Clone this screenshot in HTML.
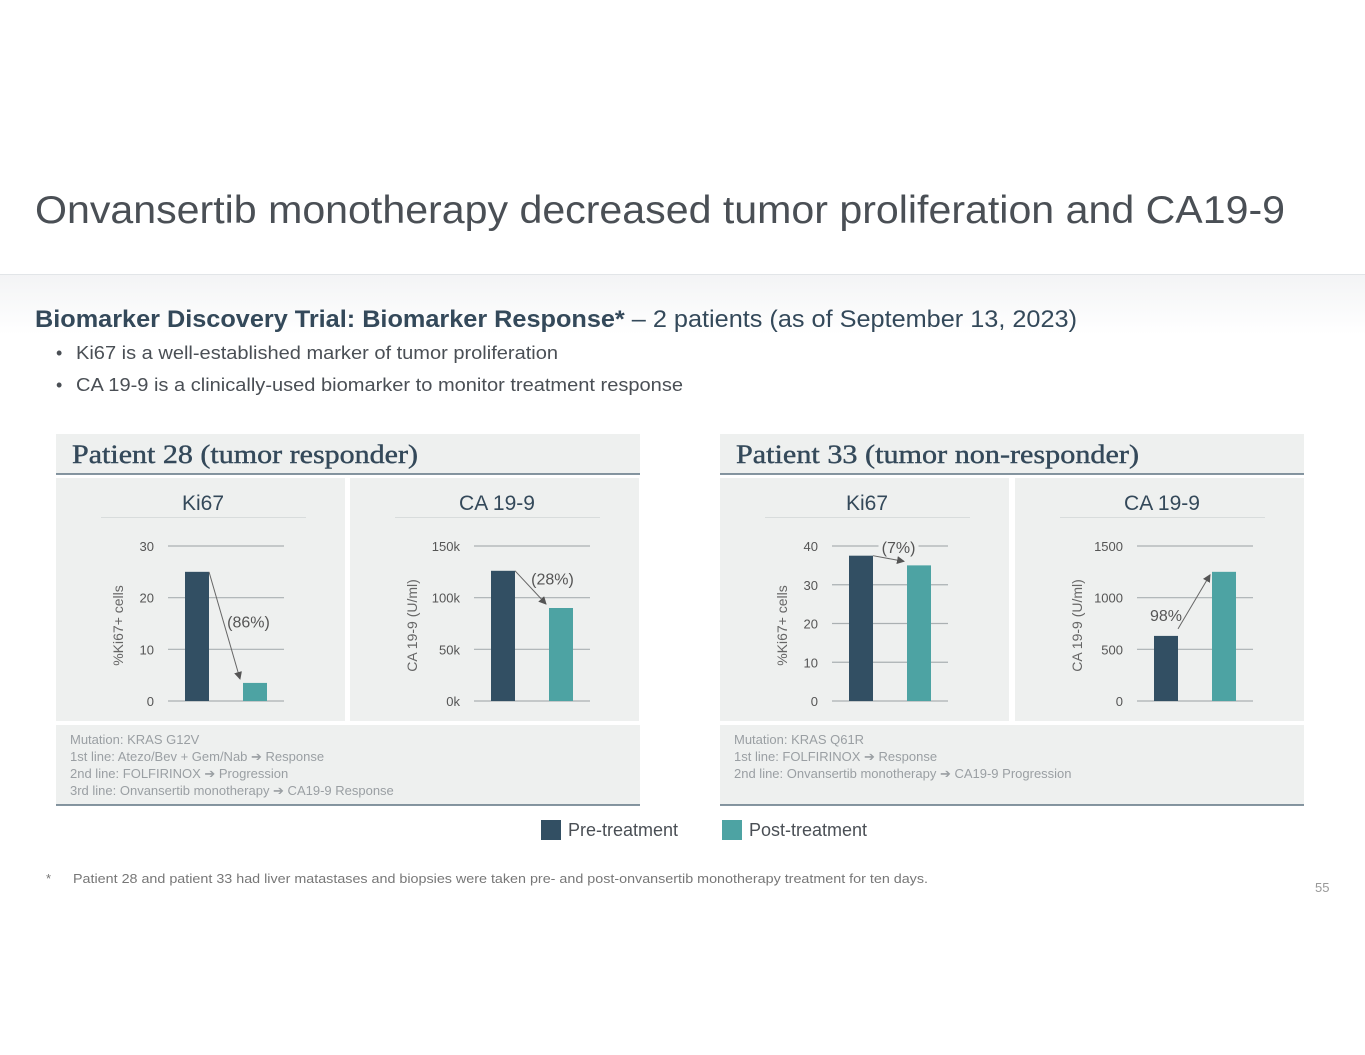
<!DOCTYPE html>
<html><head><meta charset="utf-8"><style>
html,body{margin:0;padding:0;background:#fff;}
svg{display:block;font-family:"Liberation Sans",sans-serif;}
</style></head><body>
<svg id="page" width="1365" height="1055" viewBox="0 0 1365 1055">
<defs><linearGradient id="bg" x1="0" y1="0" x2="0" y2="1"><stop offset="0" stop-color="#f3f4f5"/><stop offset="1" stop-color="#ffffff"/></linearGradient></defs>
<rect x="0" y="275" width="1365" height="60" fill="url(#bg)"/>
<line x1="0" y1="274.5" x2="1365" y2="274.5" stroke="#e2e5e8"/>
<text x="35" y="223" font-size="39" fill="#4a4f55" textLength="1250" lengthAdjust="spacingAndGlyphs">Onvansertib monotherapy decreased tumor proliferation and CA19-9</text>
<text x="35" y="327" font-size="24" fill="#34495a" textLength="1042" lengthAdjust="spacingAndGlyphs"><tspan font-weight="bold">Biomarker Discovery Trial: Biomarker Response*</tspan> – 2 patients (as of September 13, 2023)</text>
<text x="56" y="359" font-size="18" fill="#4a4f55">•</text>
<text x="76" y="359" font-size="18" fill="#4a4f55" textLength="482" lengthAdjust="spacingAndGlyphs">Ki67 is a well-established marker of tumor proliferation</text>
<text x="56" y="391" font-size="18" fill="#4a4f55">•</text>
<text x="76" y="391" font-size="18" fill="#4a4f55" textLength="607" lengthAdjust="spacingAndGlyphs">CA 19-9 is a clinically-used biomarker to monitor treatment response</text>

<g id="panels"></g>

<rect x="541" y="820" width="20" height="20" fill="#324f63"/>
<text x="568" y="836" font-size="18" fill="#4a4f55">Pre-treatment</text>
<rect x="722" y="820" width="20" height="20" fill="#4da3a3"/>
<text x="749" y="836" font-size="18" fill="#4a4f55">Post-treatment</text>

<text x="46" y="883" font-size="13" fill="#777">*</text>
<text x="73" y="883" font-size="13" fill="#777" textLength="855" lengthAdjust="spacingAndGlyphs">Patient 28 and patient 33 had liver matastases and biopsies were taken pre- and post-onvansertib monotherapy treatment for ten days.</text>
<text x="1315" y="892" font-size="13" fill="#999">55</text>
</svg>
<script>
// Data
const chartTitles = ["Ki67","CA 19-9","Ki67","CA 19-9"];
const axisTitles = ["%Ki67+ cells","CA 19-9 (U/ml)","%Ki67+ cells","CA 19-9 (U/ml)"];
const preValues = [25, 126000, 37.5, 630];
const postValues = [3.5, 90000, 35, 1250];
const axisMax = [30, 150000, 40, 1500];
const tickValues = [[0,10,20,30],[0,50000,100000,150000],[0,10,20,30,40],[0,500,1000,1500]];
const tickLabels = [["0","10","20","30"],["0k","50k","100k","150k"],["0","10","20","30","40"],["0","500","1000","1500"]];
const changeLabels = ["(86%)","(28%)","(7%)","98%"];
const panelTitles = ["Patient 28 (tumor responder)","Patient 33 (tumor non-responder)"];
const panelNotes = [
 ["Mutation: KRAS G12V","1st line: Atezo/Bev + Gem/Nab ➔ Response","2nd line: FOLFIRINOX ➔ Progression","3rd line: Onvansertib monotherapy ➔ CA19-9 Response"],
 ["Mutation: KRAS Q61R","1st line: FOLFIRINOX ➔ Response","2nd line: Onvansertib monotherapy ➔ CA19-9 Progression"]
];

const NS="http://www.w3.org/2000/svg";
const root=document.getElementById('panels');
function mk(tag,attrs,parent,txt){const e=document.createElementNS(NS,tag);for(const k in attrs)e.setAttribute(k,attrs[k]);if(txt!==undefined)e.textContent=txt;(parent||root).appendChild(e);return e;}

const panelX=[56,720], PW=584;
const titleLen=[346,403];
const chartBoxX=[[56,350],[720,1015]];
const chartBoxW=289;
const chartShift=[0,12,0,10];
const gridX0=112, gridX1=228, bar1X=129, bar2X=187, barW=24;
const Y0=701, Y1=546;
const defs=mk('defs',{});
const mkr=mk('marker',{id:'ah',markerWidth:'8',markerHeight:'8',refX:'7',refY:'4',orient:'auto',markerUnits:'userSpaceOnUse'},defs);
mk('path',{d:'M0,0 L8,4 L0,8 Z',fill:'#555'},mkr);

for(let p=0;p<2;p++){
  const px=panelX[p];
  const hdr=mk('rect',{x:px,y:434,width:PW,height:40,fill:'#eef0ef'});
  
  
  const hl=mk('line',{x1:px,y1:474,x2:px+PW,y2:474,stroke:'#5e7382','stroke-width':1.5});
  
  
  const ht=mk('text',{x:px+16,y:463,'font-size':26,fill:'#34495a','font-family':'"Liberation Serif",serif',textLength:titleLen[p],lengthAdjust:'spacingAndGlyphs',stroke:'#34495a','stroke-width':0.4},root,panelTitles[p]);
  
  
  const nb=mk('rect',{x:px,y:725,width:PW,height:80,fill:'#eef0ef'});
  
  
  const nl=mk('line',{x1:px,y1:805,x2:px+PW,y2:805,stroke:'#5e7382','stroke-width':1.5});
  
  
  panelNotes[p].forEach((s,i)=>{
    const t=mk('text',{x:px+14,y:744+i*17,'font-size':13,fill:'#9a9fa3'},root,s);
    
    
  });
  for(let c=0;c<2;c++){
    const k=p*2+c, bx0=chartBoxX[p][c], bx=bx0+chartShift[k];
    const g=mk('g',{});
    
    
    mk('rect',{x:bx0,y:478,width:chartBoxW,height:243,fill:'#eef0ef'},g);
    const tt=mk('text',{x:bx0+147,y:510,'font-size':21,fill:'#34495a','text-anchor':'middle'},g,chartTitles[k]);
    
    
    mk('line',{x1:bx0+45,y1:517.5,x2:bx0+250,y2:517.5,stroke:'#d8dcdc'},g);
    const yS=v=>Y0-(v/axisMax[k])*(Y0-Y1);
    tickValues[k].forEach((v,i)=>{
      const gl=mk('line',{x1:bx+gridX0,y1:yS(v),x2:bx+gridX1,y2:yS(v),stroke:'#aab0b2','stroke-width':1.2},g);
      
      
      const tl=mk('text',{x:bx+gridX0-14,y:yS(v)+5,'font-size':13,fill:'#555','text-anchor':'end'},g,tickLabels[k][i]);
      
      
    });
    const at=mk('text',{x:0,y:0,'font-size':14,fill:'#666','text-anchor':'middle',transform:`translate(${bx0+67},${(Y0+Y1)/2+2}) rotate(-90)`},g,axisTitles[k]);
    
    
    const b1=mk('rect',{x:bx+bar1X,y:yS(preValues[k]),width:barW,height:Y0-yS(preValues[k]),fill:'#324f63'},g);
    
    
    const b2=mk('rect',{x:bx+bar2X,y:yS(postValues[k]),width:barW,height:Y0-yS(postValues[k]),fill:'#4da3a3'},g);
    
    
    const up=postValues[k]>preValues[k];
    let x1,y1,x2,y2;
    if(up){x1=bx+bar1X+barW;y1=yS(preValues[k])-7;x2=bx+bar2X-2;y2=yS(postValues[k])+3;}
    else {x1=bx+bar1X+barW;y1=yS(preValues[k]);x2=bx+bar2X-3;y2=yS(postValues[k])-4;}
    const ar=mk('line',{x1,y1,x2,y2,stroke:'#666','stroke-width':1,'marker-end':'url(#ah)'},g);
    
    
    let lx,ly;
    if(up){lx=bx+bar1X+12;ly=yS(preValues[k])-15;}
    else if(k===2){lx=(x1+x2)/2+10;ly=yS(axisMax[k])+7;mk('rect',{x:lx-20,y:ly-15,width:40,height:18,fill:'#eef0ef'},g);}
    else if(k===1){lx=(x1+x2)/2+22;ly=(y1+y2)/2-3;}
    else {lx=(x1+x2)/2+24;ly=(y1+y2)/2+2;}
    const cl=mk('text',{x:lx,y:ly,'font-size':16,fill:'#555','text-anchor':'middle'},g,changeLabels[k]);
    
    
  }
}
</script>
</body></html>
